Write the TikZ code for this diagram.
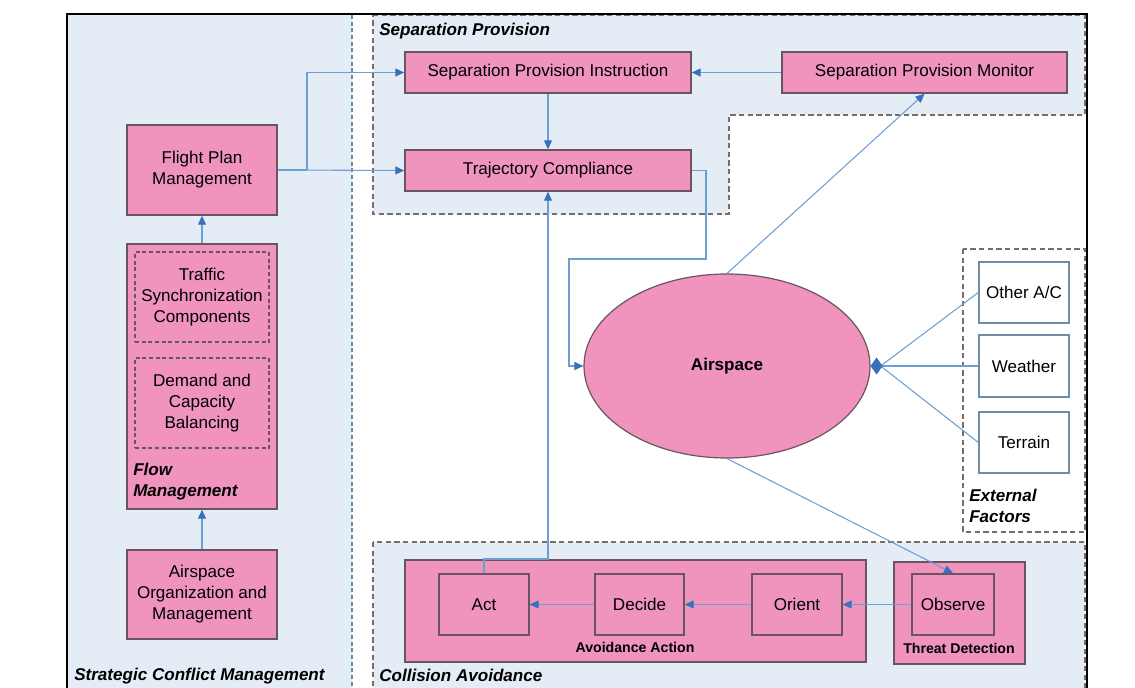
\documentclass[tikz,border=0pt]{standalone}
\usepackage{fontspec}
\setmainfont{Liberation Sans}
\usetikzlibrary{arrows.meta,shapes.geometric,calc}
\definecolor{pinkfill}{RGB}{240,148,190}
\definecolor{pinkdraw}{RGB}{105,85,95}
\definecolor{lblue}{RGB}{228,236,246}
\definecolor{regdash}{RGB}{120,108,108}
\definecolor{leftdash}{RGB}{95,140,170}
\definecolor{extdraw}{RGB}{110,140,165}
\definecolor{lineblue}{RGB}{110,158,210}
\definecolor{tipblue}{RGB}{55,112,188}
\newcommand{\mainsize}{\fontsize{12.8}{15.8}\selectfont}
\newcommand{\smallsize}{\fontsize{10.6}{13}\selectfont}
% #1 style, #2 name, #3 x1, #4 y1, #5 x2, #6 y2, #7 text
\newcommand{\bxnode}[7]{%
  \pgfmathsetmacro\bxcx{(#3+#5)/2}%
  \pgfmathsetmacro\bxcy{(#4+#6)/2}%
  \pgfmathsetmacro\bxw{(#5-#3)*0.75}%
  \pgfmathsetmacro\bxh{(#6-#4)*0.75}%
  \node[#1, minimum width=\bxw pt, minimum height=\bxh pt] (#2) at (\bxcx,\bxcy) {#7};}
\tikzset{
  pbox/.style={draw=pinkdraw, fill=pinkfill, line width=1.1pt, inner sep=0pt, align=center, font=\mainsize},
  dbox/.style={draw=pinkdraw, dash pattern=on 3pt off 2pt, line width=0.8pt, inner sep=0pt, align=center, font=\mainsize},
  ebox/.style={draw=extdraw, fill=white, line width=1pt, inner sep=0pt, align=center, font=\mainsize},
  region/.style={draw=regdash, fill=lblue, line width=1.1pt, dash pattern=on 4pt off 2.5pt},
  lbl/.style={inner sep=0pt, anchor=west, align=left, font=\mainsize\bfseries\itshape},
  sublbl/.style={inner sep=0pt, font=\smallsize\bfseries},
  conn/.style={draw=lineblue, line width=0.8pt},
  arr/.style={conn, -{Triangle[length=6.75pt,width=6pt,color=tipblue]}},
  darr/.style={conn, -{Diamond[length=9pt,width=12.75pt,color=tipblue]}}
}
\begin{document}
\begin{tikzpicture}[x=0.75pt,y=-0.75pt]
\useasboundingbox (0,0) rectangle (1135,688);
\clip (0,0) rectangle (1135,688);
% regions
\fill[lblue] (68,15) rectangle (352,700);
\draw[leftdash, line width=1pt, dash pattern=on 3pt off 2pt] (352,15) -- (352,700);
\draw[region] (373,15) -- (1085,15) -- (1085,115) -- (729,115) -- (729,214) -- (373,214) -- cycle;
\draw[region, fill=white] (963,249) rectangle (1085,532);
\draw[region] (373,542) rectangle (1085,710);
% left column
\bxnode{pbox}{fpm}{127}{125}{277}{215}{Flight Plan\\Management}
\bxnode{pbox}{flow}{127}{244}{277}{509}{}
\bxnode{dbox}{tsc}{135}{252}{269}{342}{Traffic\\Synchronization\\Components}
\bxnode{dbox}{dcb}{135}{358}{269}{448}{Demand and\\Capacity\\Balancing}
\node[lbl] (flowlbl) at (133,482) {Flow\\Management};
\bxnode{pbox}{aom}{127}{550}{277}{639}{Airspace\\Organization and\\Management}
\node[lbl] (sclbl) at (74,676) {Strategic Conflict Management};
% separation provision
\node[lbl] (splbl) at (379,31) {Separation Provision};
\bxnode{pbox}{spi}{405}{52}{691}{93}{Separation Provision Instruction}
\bxnode{pbox}{tc}{405}{150}{691}{191}{Trajectory Compliance}
\bxnode{pbox}{spm}{782}{52}{1067}{93}{Separation Provision Monitor}
% airspace
\node[ellipse, draw=pinkdraw, fill=pinkfill, line width=0.9pt, inner sep=0pt,
      minimum width=214.5pt, minimum height=138pt, font=\mainsize\bfseries] (air) at (727,366) {Airspace};
% external factors
\bxnode{ebox}{oac}{979}{262}{1069}{323}{Other A/C}
\bxnode{ebox}{wea}{979}{335}{1069}{397}{Weather}
\bxnode{ebox}{ter}{979}{412}{1069}{473}{Terrain}
\node[lbl] (eflbl) at (969,506) {External\\Factors};
% collision avoidance
\bxnode{pbox}{aa}{405}{560}{866}{662}{}
\bxnode{pbox}{act}{439}{574}{529}{635}{Act}
\bxnode{pbox}{dec}{595}{574}{684}{635}{Decide}
\bxnode{pbox}{ori}{752}{574}{842}{635}{Orient}
\node[sublbl] (aalbl) at (635,647) {Avoidance Action};
\bxnode{pbox}{td}{894}{562}{1025}{664}{}
\bxnode{pbox}{obs}{912}{574}{994}{635}{Observe}
\node[sublbl] (tdlbl) at (959,648) {Threat Detection};
\node[lbl] (calbl) at (379,675) {Collision Avoidance};
% connectors
\draw[arr] (aom.north) -- (flow.south);
\draw[arr] (flow.north) -- (fpm.south);
\coordinate (j1) at (307,170);
\draw[conn] (fpm.east) -- (j1);
\draw[arr] (j1) |- (spi.west);
\draw[arr] (fpm.east) -- (tc.west);
\draw[arr] (spm.west) -- (spi.east);
\draw[arr] (spi.south) -- (tc.north);
\coordinate (t1) at (706,259);
\coordinate (t2) at (569,259);
\draw[arr] (tc.east) -| (t1) -- (t2) |- (air.west);
\draw[arr] (air.north) -- (spm.south);
\draw[arr] (air.south) -- (obs.north);
\coordinate (dtip) at ($(air.east)+(10,0)$);
\draw[conn] (oac.west) -- (dtip);
\draw[conn] (ter.west) -- (dtip);
\draw[darr] (wea.west) -- (air.east);
\draw[arr] (obs.west) -- (ori.east);
\draw[arr] (ori.west) -- (dec.east);
\draw[arr] (dec.west) -- (act.east);
\coordinate (a1) at (484,559);
\coordinate (a2) at (548,559);
\draw[arr] (act.north) -- (a1) -- (a2) -- (a2 |- tc.south);
% outer frame
\draw[black, line width=1.6pt] (67,720) -- (67,14) -- (1087,14) -- (1087,720);
\end{tikzpicture}
\end{document}
